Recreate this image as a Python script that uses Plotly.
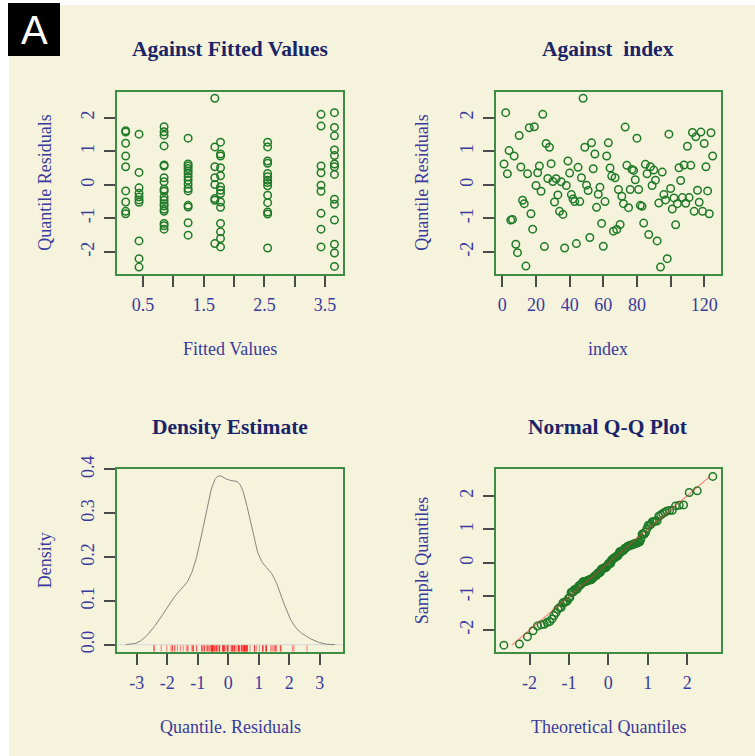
import numpy as np
from statistics import NormalDist
import plotly.graph_objects as go

W, H = 755, 756

# Quantile residuals in observation order (index 1..125)
resid = [0.62, 2.15, 0.33, 1.02, -1.05, -1.03, 0.86, -1.77, -2.02, 1.47,
         0.53, -0.46, -0.56, -2.42, 0.33, 1.70, -0.86, -1.32, 1.73, -0.02,
         0.36, 0.56, -0.19, 2.10, -1.84, 1.23, 0.19, 1.12, 0.63, 0.10,
         -0.51, 0.18, -0.30, -0.79, 0.09, -0.88, -1.88, -0.02, 0.71, 0.35,
         -0.29, -0.42, -0.50, -1.75, 0.52, -0.50, 0.21, 2.58, 1.12, -0.01,
         -0.17, -1.57, 1.25, 0.48, 0.92, -0.67, -0.28, -0.07, -1.15, -1.83,
         -0.50, 0.86, 1.25, 0.50, 0.26, -1.38, 0.21, -1.33, -0.14, -1.18,
         -0.34, -0.56, 1.72, 0.58, -0.68, -0.14, 0.46, 0.43, 0.15, 1.39,
         -0.14, -0.61, -0.64, -1.14, 0.61, 0.33, -1.48, 0.54, -0.02, 0.44,
         0.14, -1.67, -0.54, -2.45, 0.38, -0.29, -0.45, -2.20, 1.51, -0.11,
         -0.72, -0.39, -1.19, -0.56, 0.51, 0.13, -0.38, 0.59, -0.55, 1.15,
         -0.38, 0.58, 1.56, -0.79, 1.43, -0.16, -0.52, 1.57, -0.79, 1.23,
         0.54, -0.18, -0.86, 1.55, 0.86]

# Distinct fitted values and the residuals observed at each of them
fitted_levels = [0.214, 0.434, 0.847, 1.243, 1.683, 1.777, 2.553, 3.433, 3.654]
resid_at_fitted = [
    [1.61, 1.57, 1.24, 0.86, 0.54, -0.18, -0.51, -0.79, -0.86],
    [1.51, 0.37, -0.09, -0.25, -0.36, -0.45, -0.52, -1.67, -2.20, -2.45],
    [1.73, 1.58, 1.48, 1.16, 0.59, 0.56, 0.21, 0.09, -0.13, -0.19, -0.36,
     -0.46, -0.56, -0.63, -0.73, -0.79, -1.15, -1.22, -1.32],
    [1.39, 0.62, 0.56, 0.49, 0.41, 0.34, 0.24, 0.14, 0.02, -0.11, -0.18,
     -0.61, -0.66, -1.13, -1.50],
    [2.58, 1.13, 0.54, 0.21, 0.01, -0.41, -0.46, -1.75],
    [1.27, 0.92, 0.86, 0.51, 0.27, -0.06, -0.16, -0.26, -0.51, -0.67, -1.15,
     -1.40, -1.60, -1.85],
    [1.27, 1.13, 0.71, 0.64, 0.34, 0.24, 0.14, 0.07, -0.03, -0.31, -0.53,
     -0.81, -0.87, -1.88],
    [2.10, 1.75, 0.56, 0.36, -0.01, -0.19, -0.85, -1.32, -1.85],
    [2.15, 1.71, 1.46, 1.04, 0.87, 0.62, 0.54, 0.31, -0.43, -0.58, -1.05,
     -1.77, -2.03, -2.43],
]

# Tick values / labels for each panel
fit_ticks = [0.5, 1.0, 1.5, 2.0, 2.5, 3.0, 3.5]
fit_ticktext = ["0.5", "", "1.5", "", "2.5", "", "3.5"]
idx_ticks = [0, 20, 40, 60, 80, 100, 120]
idx_ticktext = ["0", "20", "40", "60", "80", "", "120"]
res_ticks = [-2, -1, 0, 1, 2]
res_ticktext = ["-2", "-1", "0", "1", "2"]
dens_xticks = [-3, -2, -1, 0, 1, 2, 3]
dens_xticktext = ["-3", "-2", "-1", "0", "1", "2", "3"]
dens_yticks = [0.0, 0.1, 0.2, 0.3, 0.4]
dens_yticktext = ["0.0", "0.1", "0.2", "0.3", "0.4"]
qq_xticks = [-2, -1, 0, 1, 2]
qq_xticktext = ["-2", "-1", "0", "1", "2"]

# colours / fonts
BG = "#f5f3dc"
FRAME = "#3f8c45"
PT = "#1f7a28"
TICK = "#4a4a4a"
TITLE_C = "#1b2468"
LAB_C = "#3a3a9c"
SERIF = "Liberation Serif"

r = np.array(resid)
n = len(r)
index = np.arange(1, n + 1)

# Gaussian kernel density with the nrd0 rule-of-thumb bandwidth
q25, q75 = np.percentile(r, [25, 75])
bw = 0.9 * min(r.std(ddof=1), (q75 - q25) / 1.34) * n ** -0.2
gx = np.linspace(r.min() - 3 * bw, r.max() + 3 * bw, 512)
dens = np.exp(-0.5 * ((gx[:, None] - r[None, :]) / bw) ** 2).sum(1) / (n * bw * np.sqrt(2 * np.pi))

# Normal Q-Q: sample quantiles against normal scores, with the identity line
nd = NormalDist()
a = 3 / 8 if n <= 10 else 0.5
theo = np.array([nd.inv_cdf((i - a) / (n + 1 - 2 * a)) for i in range(1, n + 1)])
srt = np.sort(r)

fig = go.Figure()

mk = dict(symbol="circle-open", size=7.5, color=PT, line=dict(width=1.5, color=PT))

fx, fy = [], []
for lv, vals in zip(fitted_levels, resid_at_fitted):
    fx += [lv] * len(vals)
    fy += vals
fig.add_trace(go.Scatter(x=fx, y=fy, mode="markers", marker=mk, xaxis="x", yaxis="y"))
fig.add_trace(go.Scatter(x=index, y=r, mode="markers", marker=mk, xaxis="x2", yaxis="y2"))
fig.add_trace(go.Scatter(x=gx, y=dens, mode="lines", line=dict(color="#84847c", width=1),
                         xaxis="x3", yaxis="y3"))
fig.add_trace(go.Scatter(x=theo, y=srt, mode="markers", marker=mk, xaxis="x4", yaxis="y4"))
fig.add_trace(go.Scatter(x=srt, y=srt, mode="lines",
                         line=dict(color="rgba(235,50,50,0.6)", width=1.1), xaxis="x4", yaxis="y4"))


def px_x(p):
    return p / W


def px_y(p):
    return 1 - p / H


def axis(dom, rng, tv, tt, anchor, angle=0, standoff=3):
    return dict(domain=dom, range=rng, tickvals=tv, ticktext=tt, tickangle=angle,
                anchor=anchor, automargin=False,
                showgrid=False, zeroline=False, showline=True, mirror=True,
                linecolor=FRAME, linewidth=2, ticks="outside", ticklen=11,
                tickwidth=2, tickcolor=TICK, ticklabelstandoff=standoff,
                tickfont=dict(family=SERIF, size=18, color=LAB_C), fixedrange=True)


L1, R1 = px_x(117.3), px_x(342.7)
L2, R2 = px_x(495.7), px_x(721.0)
T1, B1 = px_y(91.5), px_y(273.8)
T2, B2 = px_y(469.0), px_y(651.5)

fig.update_layout(
    width=W, height=H, margin=dict(l=0, r=0, t=0, b=0, autoexpand=False),
    paper_bgcolor="white", plot_bgcolor=BG, showlegend=False,
    xaxis=axis([L1, R1], [0.076, 3.79], fit_ticks, fit_ticktext, "y"),
    yaxis=axis([B1, T1], [-2.65, 2.78], res_ticks, res_ticktext, "x", angle=-90),
    xaxis2=axis([L2, R2], [-3.96, 129.96], idx_ticks, idx_ticktext, "y2"),
    yaxis2=axis([B1, T1], [-2.65, 2.78], res_ticks, res_ticktext, "x2", angle=-90),
    xaxis3=axis([L1, R1], [-3.64, 3.75], dens_xticks, dens_xticktext, "y3"),
    yaxis3=axis([B2, T2], [-0.0155, 0.401], dens_yticks, dens_yticktext, "x3", angle=-90),
    xaxis4=axis([L2, R2], [-2.86, 2.86], qq_xticks, qq_xticktext, "y4"),
    yaxis4=axis([B2, T2], [-2.64, 2.80], res_ticks, res_ticktext, "x4", angle=-90),
)

shapes = [
    dict(type="rect", xref="paper", yref="paper", x0=px_x(9), x1=1, y0=0, y1=px_y(5),
         fillcolor=BG, line=dict(width=0), layer="below"),
    dict(type="rect", xref="paper", yref="paper", x0=px_x(8), x1=px_x(60), y0=px_y(56), y1=px_y(3),
         fillcolor="black", line=dict(width=0)),
    dict(type="line", xref="x3 domain", yref="y3", x0=0, x1=1, y0=0, y1=0,
         line=dict(color="#d8d8d8", width=1), layer="below"),
]
# rug of residuals along the bottom of the density panel
for v in resid:
    shapes.append(dict(type="line", xref="x3", yref="y3 domain", x0=v, x1=v, y0=0, y1=0.034,
                       line=dict(color="rgba(255,20,20,0.55)", width=1)))
fig.update_layout(shapes=shapes)

ann = []


def txt(x, y, s, size, color, angle=0):
    ann.append(dict(x=px_x(x), y=px_y(y), xref="paper", yref="paper", text=s, showarrow=False,
                    textangle=angle, xanchor="center", yanchor="middle",
                    font=dict(family=SERIF, size=size, color=color)))


cx1 = (117.3 + 342.7) / 2
cx2 = (495.7 + 721.0) / 2
cy1 = (91.5 + 273.8) / 2
cy2 = (469.0 + 651.5) / 2
txt(cx1, 49.5, "<b>Against Fitted Values</b>", 21.5, TITLE_C)
txt(cx2, 49.5, "<b>Against  index</b>", 21.5, TITLE_C)
txt(cx1, 427, "<b>Density Estimate</b>", 21.5, TITLE_C)
txt(cx2, 427, "<b>Normal Q-Q Plot</b>", 21.5, TITLE_C)
txt(cx1, 349, "Fitted Values", 18, LAB_C)
txt(cx2, 349, "index", 18, LAB_C)
txt(cx1, 727, "Quantile. Residuals", 18, LAB_C)
txt(cx2, 727, "Theoretical Quantiles", 18, LAB_C)
txt(45, cy1, "Quantile Residuals", 18, LAB_C, -90)
txt(422, cy1, "Quantile Residuals", 18, LAB_C, -90)
txt(45, cy2, "Density", 18, LAB_C, -90)
txt(422, cy2, "Sample Quantiles", 18, LAB_C, -90)
ann.append(dict(x=px_x(34), y=px_y(30), xref="paper", yref="paper", text="A", showarrow=False,
                xanchor="center", yanchor="middle",
                font=dict(family="Liberation Sans", size=40, color="white")))
fig.update_layout(annotations=ann)

fig.write_html("out.html")
